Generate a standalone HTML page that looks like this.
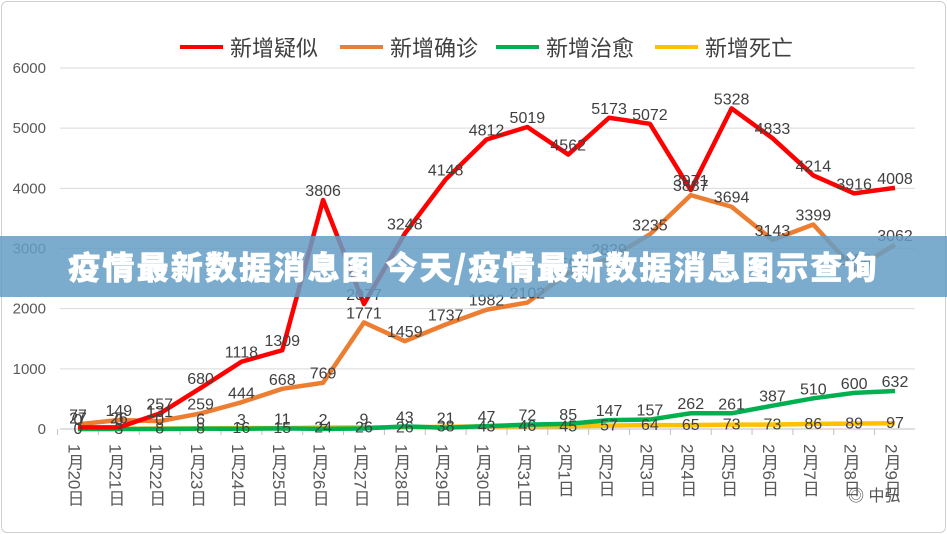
<!DOCTYPE html>
<html><head><meta charset="utf-8"><style>
body{margin:0;width:947px;height:534px;overflow:hidden;background:#fff;font-family:"Liberation Sans","Noto Sans CJK SC",sans-serif;}
#frame{position:absolute;left:1px;top:1px;width:943px;height:530px;border:1px solid #d0d0d0;border-radius:6px;}
#band{position:absolute;left:0;top:236px;width:947px;height:61px;background:rgba(100,158,198,0.85);color:#fff;font-weight:900;font-size:32px;letter-spacing:2.2px;line-height:61px;text-align:center;font-family:"Noto Sans CJK SC","WenQuanYi Zen Hei",sans-serif;-webkit-text-stroke:0.6px #fff;}
#wm{position:absolute;left:848px;top:482px;font-size:16px;color:#555;}
</style></head><body>
<div id="frame"></div>
<svg id="chart" width="947" height="534" style="position:absolute;left:0;top:0"></svg>
<div id="band">疫情最新数据消息图 今天/疫情最新数据消息图示查询</div>
<div id="wm">◎ 中弘</div>
<script>
const categories=["1月20日","1月21日","1月22日","1月23日","1月24日","1月25日","1月26日","1月27日","1月28日","1月29日","1月30日","1月31日","2月1日","2月2日","2月3日","2月4日","2月5日","2月6日","2月7日","2月8日","2月9日"];
const suspected=[27,26,257,680,1118,1309,3806,2077,3248,4148,4812,5019,4562,5173,5072,3971,5328,4833,4214,3916,4008];
const confirmed=[77,149,131,259,444,668,769,1771,1459,1737,1982,2102,2590,2829,3235,3887,3694,3143,3399,2656,3062];
const cured=[0,0,0,6,3,11,2,9,43,21,47,72,85,147,157,262,261,387,510,600,632];
const deaths=[0,3,8,8,16,15,24,26,26,38,43,46,45,57,64,65,73,73,86,89,97];
const yTicks=[0,1000,2000,3000,4000,5000,6000];
const seriesNames=["新增疑似","新增确诊","新增治愈","新增死亡"];
const svg=document.getElementById('chart');const NS='http://www.w3.org/2000/svg';
const x0=78,x1=895,yb=429,yt=68,ymax=6000;
const X=i=>x0+(x1-x0)*i/(categories.length-1);
const Y=v=>yb-(yb-yt)*v/ymax;
function mk(t,a,p){const e=document.createElementNS(NS,t);for(const k in a)e.setAttribute(k,a[k]);(p||svg).appendChild(e);return e;}
yTicks.forEach(v=>{
 const l=mk('line',{x1:60,x2:915,y1:Y(v),y2:Y(v),stroke:v?'#d9d9d9':'#bfbfbf','stroke-width':1});
 
 
 const t=mk('text',{x:46,y:Y(v)+5,'text-anchor':'end','font-size':15,fill:'#595959'});t.textContent=v;
 
 
});
categories.forEach((c,i)=>{
 const tk=mk('line',{x1:X(i)-20.4,x2:X(i)-20.4,y1:yb,y2:yb+6,stroke:'#bfbfbf'});
 
 
 const t=mk('text',{x:X(i)-4,y:444,'font-size':17,fill:'#595959',style:'writing-mode:vertical-rl;font-family:"Liberation Sans","Noto Sans CJK SC",sans-serif'});t.textContent=c;
 
 
});
const series=[[suspected,'#ff0000'],[confirmed,'#ed7d31'],[cured,'#00b050'],[deaths,'#ffc000']];
[3,2,1,0].forEach(k=>{
 const [d,col]=series[k];
 const p=mk('polyline',{points:d.map((v,i)=>X(i)+','+Y(v)).join(' '),fill:'none',stroke:col,'stroke-width':4.5,'stroke-linejoin':'round'});
 
 
});
series.forEach(([d,col],k)=>{
 d.forEach((v,i)=>{const t=mk('text',{x:X(i),y:Y(v)-(k==3?-5:4),'text-anchor':'middle','font-size':16,fill:'#404040'});t.textContent=v;
 
 });
});
const lx=[180,340,496,655];
seriesNames.forEach((n,k)=>{
 const g=mk('g',{});
 
 
 mk('line',{x1:lx[k],x2:lx[k]+43,y1:47,y2:47,stroke:series[k][1],'stroke-width':4},g);
 const t=mk('text',{x:lx[k]+50,y:56,'font-size':22,fill:'#404040'},g);t.textContent=n;
});
</script>
</body></html>
